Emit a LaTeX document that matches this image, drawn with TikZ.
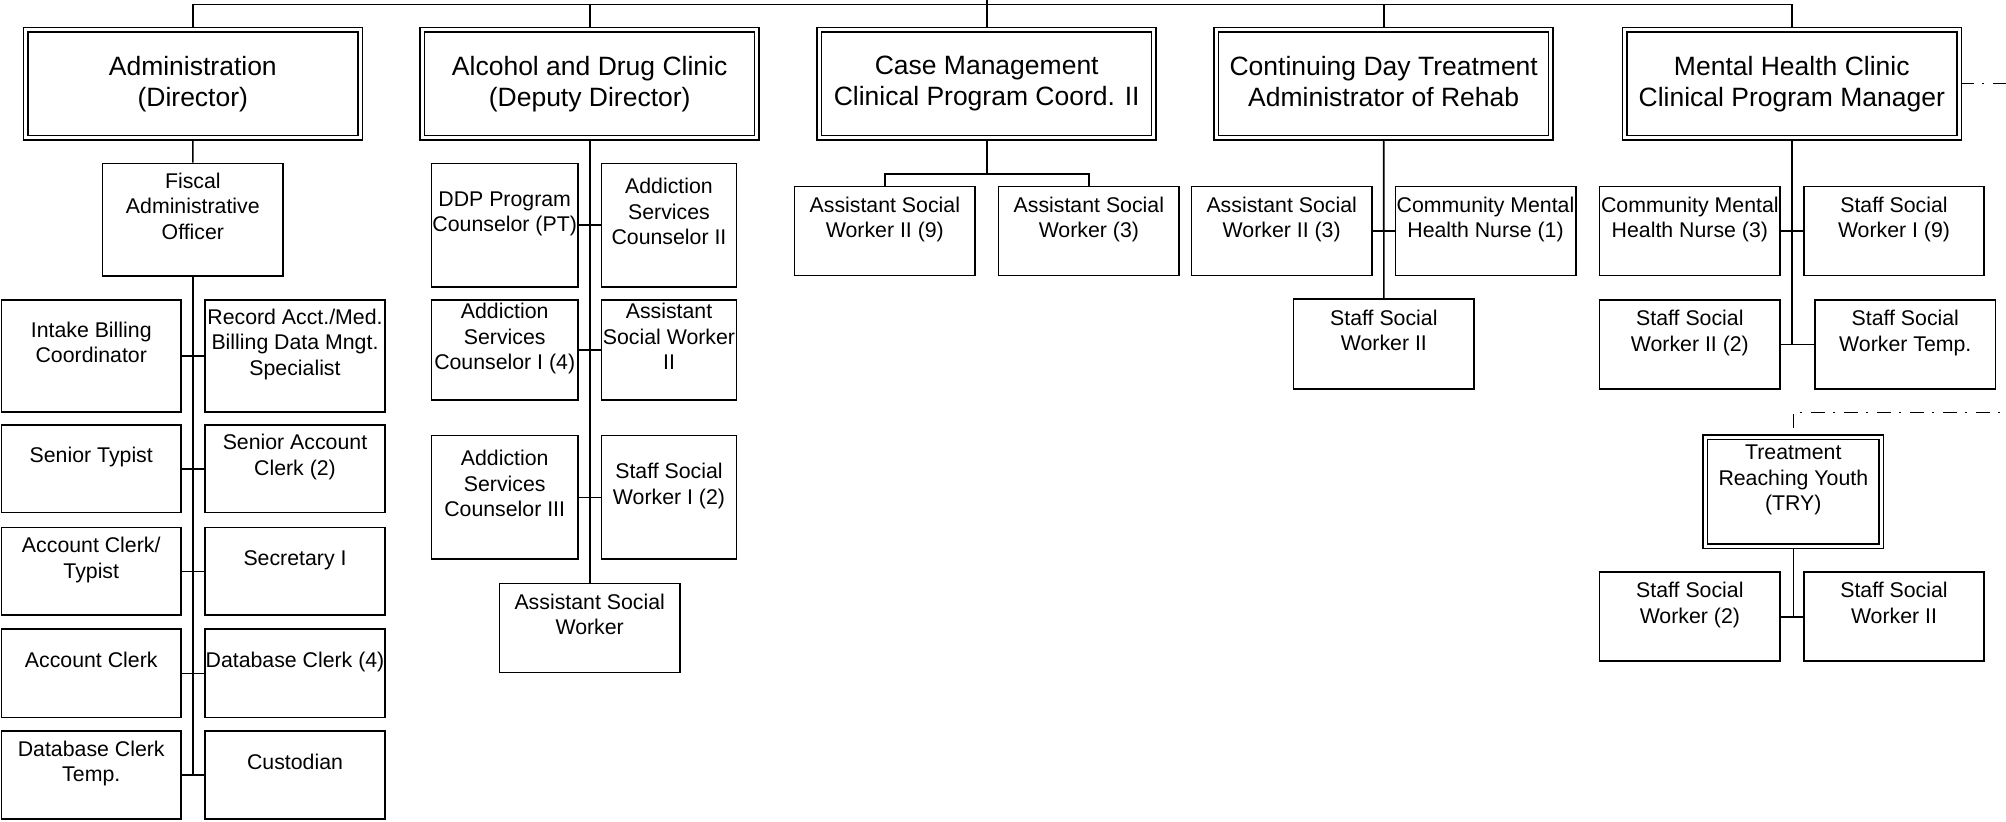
\documentclass[tikz,border=0pt]{standalone}
\usepackage{fontspec}
\setmainfont{Liberation Sans}
\usetikzlibrary{backgrounds}
\begin{document}
\begin{tikzpicture}[x=1pt,y=-1pt,
  even lines/.style={execute at begin node=\vphantom{(}, execute at end node=\vphantom{(}},
  head lines/.style={execute at begin node=\rule{0pt}{22pt}, execute at end node=\vphantom{(}},
  unit/.style={draw, line width=1.5pt, double=white, double distance=3pt, fill=white,
    minimum width=334.5pt, minimum height=108pt, inner sep=0pt, align=center,
    font=\fontsize{26.5pt}{31pt}\selectfont},
  post/.style={draw, line width=1.6pt, fill=white, inner sep=0pt,
    minimum width=180.4pt, minimum height=89pt},
  posttext/.style={align=center, inner sep=0pt, yshift=11.5pt, even lines,
    font=\fontsize{21.3pt}{25.5pt}\selectfont},
  says/.style={label={[posttext]center:{#1}}},
  link/.style={line width=1.6pt},
  dashlink/.style={line width=1.5pt, dash pattern=on 14pt off 8pt on 2pt off 9pt}
]
\useasboundingbox (0,0) rectangle (2006,822);

% ---- program heads ----
\node[unit, head lines] (adm) at (192.8,83.7) {Administration\\(Director)};
\node[unit, head lines] (adc) at (589.7,83.7) {Alcohol and Drug Clinic\\(Deputy Director)};
\node[unit, head lines] (cm)  at (986.7,83.7) {Case Management\\Clinical Program Coord. II};
\node[unit, head lines] (cdt) at (1383.7,83.7) {Continuing Day Treatment\\Administrator of Rehab};
\node[unit, head lines] (mhc) at (1791.8,83.7) {Mental Health Clinic\\Clinical Program Manager};

% ---- administration ----
\node[post, minimum height=112.4pt, says={Fiscal\\Administrative\\Officer}] (fao) at (192.85,219.7) {};
\node[post, minimum width=179.3pt, minimum height=112.1pt, says={Intake Billing\\Coordinator}] (a1l) at (91.25,355.8) {};
\node[post, minimum height=112.1pt, says={Record Acct./Med.\\Billing Data Mngt.\\Specialist}] (a1r) at (295,355.8) {};
\node[post, minimum width=179.3pt, minimum height=87.7pt, says={Senior Typist}] (a2l) at (91.25,468.7) {};
\node[post, minimum height=87.7pt, says={Senior Account\\Clerk (2)}] (a2r) at (295,468.7) {};
\node[post, minimum width=179.3pt, minimum height=87.7pt, says={Account Clerk/\\Typist}] (a3l) at (91.25,571.3) {};
\node[post, minimum height=87.7pt, says={Secretary I}] (a3r) at (295,571.3) {};
\node[post, minimum width=179.3pt, minimum height=88.4pt, says={Account Clerk}] (a4l) at (91.25,673.3) {};
\node[post, minimum height=88.4pt, says={Database Clerk (4)}] (a4r) at (295,673.3) {};
\node[post, minimum width=179.3pt, minimum height=88.4pt, says={Database Clerk\\Temp.}] (a5l) at (91.25,775) {};
\node[post, minimum height=88.4pt, says={Custodian}] (a5r) at (295,775) {};

% ---- alcohol and drug clinic ----
\node[post, minimum width=146.4pt, minimum height=123.4pt, says={DDP Program\\Counselor (PT)}] (b1l) at (504.7,225.2) {};
\node[post, minimum width=135pt, minimum height=123.4pt, says={Addiction\\Services\\Counselor II}] (b1r) at (669,225.2) {};
\node[post, minimum width=146.4pt, minimum height=100.4pt, says={Addiction\\Services\\Counselor I (4)}] (b2l) at (504.7,350) {};
\node[post, minimum width=135pt, minimum height=100.4pt, says={Assistant\\Social Worker\\II}] (b2r) at (669,350) {};
\node[post, minimum width=146.4pt, minimum height=123.7pt, says={Addiction\\Services\\Counselor III}] (b3l) at (504.7,497.3) {};
\node[post, minimum width=135pt, minimum height=123.7pt, says={Staff Social\\Worker I (2)}] (b3r) at (669,497.3) {};
\node[post, says={Assistant Social\\Worker}] (b4) at (589.7,628) {};

% ---- case management ----
\node[post, says={Assistant Social\\Worker II (9)}] (c1) at (884.85,231) {};
\node[post, says={Assistant Social\\Worker (3)}] (c2) at (1088.85,231) {};

% ---- continuing day treatment ----
\node[post, says={Assistant Social\\Worker II (3)}] (d1) at (1281.7,231) {};
\node[post, says={Community Mental\\Health Nurse (1)}] (d2) at (1485.5,231) {};
\node[post, minimum height=90pt, says={Staff Social\\Worker II}] (d3) at (1383.85,344.2) {};

% ---- mental health clinic ----
\node[post, says={Community Mental\\Health Nurse (3)}] (e1) at (1689.85,231) {};
\node[post, says={Staff Social\\Worker I (9)}] (e2) at (1894,231) {};
\node[post, says={Staff Social\\Worker II (2)}] (e3) at (1689.85,344.5) {};
\node[post, says={Staff Social\\Worker Temp.}] (e4) at (1905.3,344.5) {};

% ---- treatment reaching youth ----
\node[unit, minimum width=176pt, minimum height=108.7pt, says={Treatment\\Reaching Youth\\(TRY)}] (try) at (1793.3,491.7) {};
\node[post, says={Staff Social\\Worker (2)}] (f1) at (1689.85,616.7) {};
\node[post, says={Staff Social\\Worker II}] (f2) at (1894,616.7) {};

% ---- free ends of the connectors ----
\coordinate (root) at (986.7,0);
\coordinate (bus) at (986.7,4.3);
\coordinate (cmbus) at (986.7,174);
\coordinate (mhcout) at (2006,83.7);
\coordinate (tryout) at (2006,412.5);

\begin{scope}[on background layer]
  % top bus
  \draw[link] (root) -- (cm.north);
  \draw[link] (adm.north) |- (bus) -| (mhc.north);
  \draw[link] (adc.north) -- (adc.north |- bus);
  \draw[link] (cdt.north) -- (cdt.north |- bus);
  % administration
  \draw[link] (adm) -- (fao);
  \draw[link] (fao.south) -- (fao.south |- a5l.east);
  \foreach \r in {1,...,5} \draw[link] (a\r l) -- (a\r r);
  % alcohol and drug clinic
  \draw[link] (adc) -- (b4);
  \foreach \r in {1,2,3} \draw[link] (b\r l) -- (b\r r);
  % case management
  \draw[link] (cm.south) -- (cmbus);
  \draw[link] (c1.north) |- (cmbus) -| (c2.north);
  % continuing day treatment
  \draw[link] (cdt) -- (d3);
  \draw[link] (d1) -- (d2);
  % mental health clinic
  \draw[link] (mhc.south) -- (mhc.south |- e3.east);
  \draw[link] (e1) -- (e2);
  \draw[link] (e3) -- (e4);
  % treatment reaching youth
  \draw[link] (try.south) -- (try.south |- f1.east);
  \draw[link] (f1) -- (f2);
  % dotted reporting lines
  \draw[dashlink] (mhc.east) -- (mhcout);
  \draw[dashlink, dash phase=24pt] (try.north) |- (tryout);
\end{scope}
\end{tikzpicture}
\end{document}
